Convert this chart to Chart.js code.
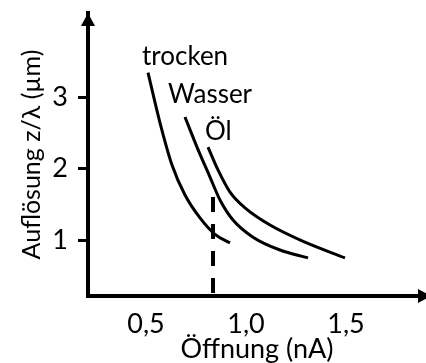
<!DOCTYPE html>
<html>
<head>
<meta charset="utf-8">
<script src="https://cdn.jsdelivr.net/npm/chart.js@4.4.1/dist/chart.umd.min.js"></script>
<style>
  html, body { margin: 0; padding: 0; background: #fff; }
  #wrap { width: 426px; height: 363px; }
</style>
</head>
<body>
<div id="wrap"><canvas id="res" width="426" height="363"></canvas></div>
<script>
// Auflösung gegen Öffnung für drei Medien
const seriesNames = ['trocken', 'Wasser', 'Öl'];

const trockenX = [0.51, 0.57, 0.63, 0.695, 0.77, 0.845, 0.92];
const trockenY = [3.34, 2.64, 2.05, 1.63, 1.31, 1.08, 0.96];

const wasserX = [0.695, 0.755, 0.82, 0.87, 0.935, 1.035, 1.17, 1.31];
const wasserY = [2.72, 2.30, 1.88, 1.56, 1.28, 1.04, 0.86, 0.75];

const oelX = [0.81, 0.86, 0.92, 0.995, 1.12, 1.295, 1.495];
const oelY = [2.30, 1.98, 1.67, 1.45, 1.21, 0.97, 0.75];

// gestrichelte Markierung bei NA ~ 0,835
const markX = [0.835, 0.835];
const markY = [1.60, 0.2];

const xTicks = [0.5, 1.0, 1.5];
const yTicks = [1, 2, 3];
const xRange = [0.21, 1.9];
const yRange = [0.217, 4.175];

const FONT = 'Lato, "Liberation Sans", sans-serif';
const labelOffsets = { 'trocken': [-6, -16], 'Wasser': [-17, -22], 'Öl': [-3, -15] };

function toPoints(xs, ys) {
  return xs.map((x, i) => ({ x: x, y: ys[i] }));
}

const curve = {
  showLine: true,
  borderColor: '#000',
  borderWidth: 3,
  pointRadius: 0,
  cubicInterpolationMode: 'monotone',
  fill: false,
};

// Pfeilspitzen an den Achsen
const axisArrows = {
  id: 'axisArrows',
  afterDraw(chart) {
    const { ctx, chartArea } = chart;
    const x0 = chartArea.left;
    const y0 = chartArea.bottom;
    ctx.save();
    ctx.fillStyle = '#000';
    ctx.beginPath();
    ctx.moveTo(x0, chartArea.top);
    ctx.lineTo(x0 - 7, chartArea.top + 13);
    ctx.lineTo(x0 + 7, chartArea.top + 13);
    ctx.closePath();
    ctx.fill();
    ctx.beginPath();
    ctx.moveTo(chartArea.right + 5, y0);
    ctx.lineTo(chartArea.right - 8, y0 - 7);
    ctx.lineTo(chartArea.right - 8, y0 + 7);
    ctx.closePath();
    ctx.fill();
    ctx.restore();
  },
};

// Beschriftung oberhalb des Kurvenanfangs
const curveLabels = {
  id: 'curveLabels',
  afterDatasetsDraw(chart) {
    const { ctx } = chart;
    ctx.save();
    ctx.fillStyle = '#000';
    ctx.font = '26px ' + FONT;
    ctx.textAlign = 'left';
    ctx.textBaseline = 'middle';
    chart.data.datasets.forEach((ds, i) => {
      const off = labelOffsets[ds.label];
      if (!off) return;
      const p = chart.getDatasetMeta(i).data[0];
      ctx.fillText(ds.label, p.x + off[0], p.y + off[1]);
    });
    ctx.restore();
  },
};

const ctx = document.getElementById('res');
new Chart(ctx, {
  type: 'scatter',
  data: {
    datasets: [
      Object.assign({ label: seriesNames[0], data: toPoints(trockenX, trockenY) }, curve),
      Object.assign({ label: seriesNames[1], data: toPoints(wasserX, wasserY) }, curve),
      Object.assign({ label: seriesNames[2], data: toPoints(oelX, oelY) }, curve),
      {
        data: toPoints(markX, markY),
        showLine: true,
        borderColor: '#000',
        borderWidth: 4,
        borderDash: [15, 12],
        pointRadius: 0,
      },
    ],
  },
  options: {
    responsive: false,
    animation: false,
    layout: { padding: { top: 13, right: 0, left: 0, bottom: 0 } },
    plugins: {
      legend: { display: false },
      tooltip: { enabled: false },
    },
    scales: {
      x: {
        type: 'linear',
        min: xRange[0],
        max: xRange[1],
        afterFit: (s) => {
          s.height = 67;
          s.paddingLeft = 0;
          s.paddingRight = 0;
        },
        afterBuildTicks: (s) => { s.ticks = xTicks.map((v) => ({ value: v })); },
        grid: { display: false },
        border: { display: true, color: '#000', width: 4 },
        ticks: {
          color: '#000',
          padding: 4,
          maxRotation: 0,
          autoSkip: false,
          font: { family: FONT, size: 27 },
          callback: (v) => Number(v).toFixed(1).replace('.', ','),
        },
        title: {
          display: true,
          text: 'Öffnung (nA)',
          color: '#000',
          font: { family: FONT, size: 27, lineHeight: 1 },
          padding: { top: 0, bottom: 0 },
        },
      },
      y: {
        type: 'linear',
        min: yRange[0],
        max: yRange[1],
        afterFit: (s) => {
          s.width = 88;
          s.paddingTop = 0;
          s.paddingBottom = 0;
        },
        afterBuildTicks: (s) => { s.ticks = yTicks.map((v) => ({ value: v })); },
        grid: {
          display: true,
          drawOnChartArea: false,
          drawTicks: true,
          tickLength: 10,
          tickWidth: 3,
          tickColor: '#000',
        },
        border: { display: true, color: '#000', width: 4 },
        ticks: {
          color: '#000',
          padding: 10,
          autoSkip: false,
          font: { family: FONT, size: 27 },
          callback: (v) => String(v),
        },
        title: {
          display: true,
          text: 'Auflösung z/λ (µm)',
          color: '#000',
          font: { family: FONT, size: 25, lineHeight: 1 },
          padding: { top: 19, bottom: 0 },
        },
      },
    },
  },
  plugins: [axisArrows, curveLabels],
});
</script>
</body>
</html>
